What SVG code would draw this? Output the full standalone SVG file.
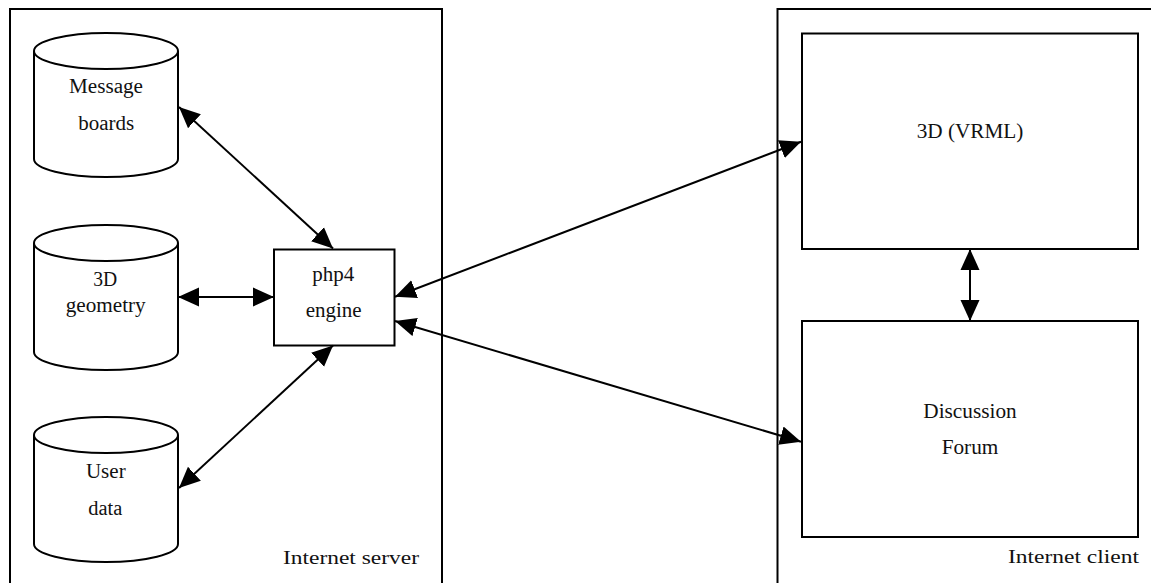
<svg xmlns="http://www.w3.org/2000/svg" width="1151" height="583" viewBox="0 0 1151 583">
  <style>
    .frame { fill: none; stroke: #000; stroke-width: 2; }
    .box { fill: #fff; stroke: #000; stroke-width: 2; }
    .edge { fill: none; stroke: #000; stroke-width: 2; marker-start: url(#head); marker-end: url(#head); }
    text { font-family: "Liberation Serif", "Times New Roman", serif; font-size: 20px; fill: #111; }
    .mid { text-anchor: middle; }
    .caption { font-size: 19.5px; }
  </style>
  <defs>
    <marker id="head" markerUnits="userSpaceOnUse" markerWidth="21" markerHeight="20" viewBox="0 0 21 20" refX="21" refY="10" orient="auto-start-reverse">
      <path d="M0,0.5 L21,10 L0,19.5 z" fill="#000"/>
    </marker>
  </defs>

  <rect width="1151" height="583" fill="#fff"/>

  <!-- Internet server container -->
  <g id="server">
    <rect class="frame" x="10" y="9" width="432" height="590"/>
    <text class="caption" x="283" y="564" textLength="136" lengthAdjust="spacingAndGlyphs">Internet server</text>
  </g>

  <!-- Internet client container -->
  <g id="client">
    <rect class="frame" x="777.5" y="9" width="400" height="590"/>
    <text class="caption" x="1008" y="563" textLength="131" lengthAdjust="spacingAndGlyphs">Internet client</text>
  </g>

  <!-- Data stores -->
  <g id="message-boards">
    <path class="box" d="M34,51 L34,159 A72,18 0 0 0 178,159 L178,51"/>
    <ellipse class="box" cx="106" cy="51" rx="72" ry="18"/>
    <text class="mid" x="106" y="93" textLength="74" lengthAdjust="spacingAndGlyphs">Message</text>
    <text class="mid" x="106.3" y="130" textLength="56" lengthAdjust="spacingAndGlyphs">boards</text>
  </g>

  <g id="geometry">
    <path class="box" d="M34,243 L34,352 A72,18 0 0 0 178,352 L178,243"/>
    <ellipse class="box" cx="106" cy="243" rx="72" ry="18"/>
    <text class="mid" x="105.3" y="285.7" textLength="24" lengthAdjust="spacingAndGlyphs">3D</text>
    <text class="mid" x="105.7" y="312" textLength="80" lengthAdjust="spacingAndGlyphs">geometry</text>
  </g>

  <g id="user-data">
    <path class="box" d="M34,435 L34,544 A72,18 0 0 0 178,544 L178,435"/>
    <ellipse class="box" cx="106" cy="435" rx="72" ry="18"/>
    <text class="mid" x="105.8" y="478.3" textLength="39.7" lengthAdjust="spacingAndGlyphs">User</text>
    <text class="mid" x="105.3" y="515" textLength="34" lengthAdjust="spacingAndGlyphs">data</text>
  </g>

  <!-- Script engine -->
  <g id="php4">
    <rect class="box" x="274" y="249.5" width="120.5" height="96"/>
    <text class="mid" x="333.3" y="280.7" textLength="42" lengthAdjust="spacingAndGlyphs">php4</text>
    <text class="mid" x="333.7" y="316.7" textLength="56" lengthAdjust="spacingAndGlyphs">engine</text>
  </g>

  <!-- Client views -->
  <g id="vrml">
    <rect class="box" x="802" y="33.5" width="336" height="215.5"/>
    <text class="mid" x="970" y="137.7" textLength="106.7" lengthAdjust="spacingAndGlyphs">3D (VRML)</text>
  </g>

  <g id="forum">
    <rect class="box" x="802" y="321" width="336" height="216"/>
    <text class="mid" x="970" y="418.3" textLength="93.3" lengthAdjust="spacingAndGlyphs">Discussion</text>
    <text class="mid" x="970" y="454" textLength="56.7" lengthAdjust="spacingAndGlyphs">Forum</text>
  </g>

  <!-- Bidirectional links -->
  <g id="connectors">
    <line class="edge" x1="179" y1="107" x2="333" y2="248.5"/>
    <line class="edge" x1="178" y1="297" x2="274" y2="297"/>
    <line class="edge" x1="179" y1="488" x2="333" y2="345.5"/>
    <line class="edge" x1="395" y1="296.7" x2="801" y2="141.7"/>
    <line class="edge" x1="395" y1="321" x2="801" y2="441.7"/>
    <line class="edge" x1="970" y1="249" x2="970" y2="321"/>
  </g>
</svg>
